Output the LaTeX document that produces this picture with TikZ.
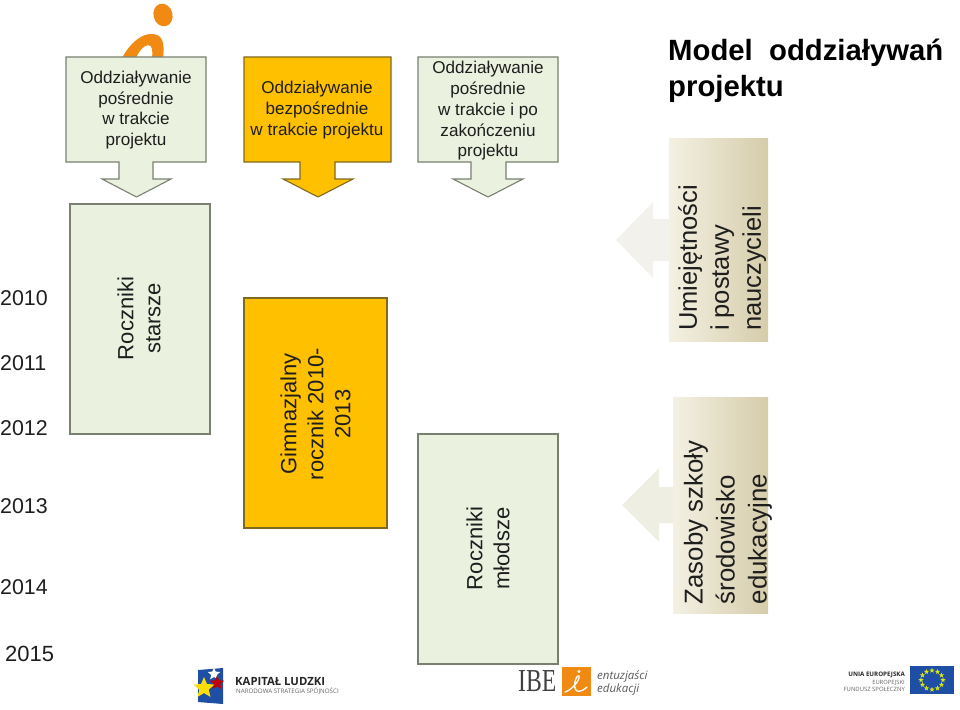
\documentclass[tikz,border=0pt]{standalone}
\usepackage{fontspec}
\setmainfont{Liberation Sans}
\newfontfamily\serifa{Liberation Serif}
\newfontfamily\logoa{Open Sans}
\usetikzlibrary{shapes.geometric}
\definecolor{pale}{HTML}{EAF1DF}
\definecolor{amber}{HTML}{FFC000}
\definecolor{edgeg}{HTML}{7A8070}
\definecolor{edgeo}{HTML}{7F6A20}
\definecolor{ink}{HTML}{1E1E1E}
\definecolor{brand}{HTML}{F08A12}
\definecolor{eublue}{HTML}{1F4FA5}
\definecolor{sanddark}{HTML}{D5CCAA}
\definecolor{sandlight}{HTML}{F4F1E3}
\definecolor{fadeone}{HTML}{F2F1EC}
\definecolor{fadetwo}{HTML}{EFEEE3}
\tikzset{
 x=1pt,y=-1pt,
 greenshape/.style={draw=edgeg,fill=pale,line width=1.1pt,line join=miter},
 ambershape/.style={draw=edgeo,fill=amber,line width=1.1pt,line join=miter},
 boxtext/.style={text=ink,align=center,inner sep=0pt,font=\fontsize{17.1}{20.8}\selectfont},
 sidetext/.style={text=ink,rotate=90,align=center,inner sep=0pt,font=\fontsize{22}{27}\selectfont},
 sandtext/.style={text=ink,rotate=90,align=left,inner sep=0pt},
 year/.style={anchor=base west,inner sep=0pt,text=ink,font=\fontsize{21.4}{25}\selectfont},
}
\begin{document}
\begin{tikzpicture}
\useasboundingbox (0,0) rectangle (960,709);
% orange figure behind the first callout
\fill[brand,rotate around={15:(163,15)}] (163,15) ellipse [x radius=9.5,y radius=11.5];
\fill[brand] (122,58) .. controls (130,43) and (142,33) .. (153,34)
  .. controls (162,35) and (165,42) .. (163,58) -- (152,58)
  .. controls (153,50) and (152,45) .. (148,45)
  .. controls (143,46) and (139,51) .. (136,58) -- cycle;
% callouts
\draw[greenshape] (66,57) -- (206,57) -- (206,162) -- (153,162) -- (153,179) -- (171,179) -- (136.5,197) -- (102,179) -- (119,179) -- (119,162) -- (66,162) -- cycle;
\draw[ambershape] (244,57) -- (391,57) -- (391,162) -- (335,162) -- (335,179) -- (353,179) -- (318,197) -- (283,179) -- (300,179) -- (300,162) -- (244,162) -- cycle;
\draw[greenshape] (418,57) -- (558,57) -- (558,162) -- (506,162) -- (506,179) -- (523,179) -- (488,197) -- (453,179) -- (471,179) -- (471,162) -- (418,162) -- cycle;
\node[boxtext] (c1) at (136,110) {Oddziaływanie\\pośrednie\\w trakcie\\projektu};
\node[boxtext] (c2) at (317,110) {Oddziaływanie\\bezpośrednie\\w trakcie projektu};
\node[boxtext] (c3) at (488,110.8) {Oddziaływanie\\pośrednie\\w trakcie i po\\zakończeniu\\projektu};
% long boxes
\node[greenshape,minimum width=140pt,minimum height=230pt,inner sep=0pt] (b1) at (140,319) {};
\node[ambershape,minimum width=143pt,minimum height=230pt,inner sep=0pt] (b2) at (315.5,413) {};
\node[greenshape,minimum width=140pt,minimum height=230pt,inner sep=0pt] (b3) at (488,549) {};
\node[sidetext] (t1) at (139,318.5) {Roczniki\\starsze};
\node[sidetext] (t2) at (315.5,414) {Gimnazjalny\\rocznik 2010-\\2013};
\node[sidetext] (t3) at (488,548.5) {Roczniki\\młodsze};
% sand callouts
\fill[fadeone] (669,219) -- (653,219) -- (653,202) -- (616,240) -- (653,278) -- (653,261) -- (669,261) -- cycle;
\fill[fadetwo] (673,487) -- (659,487) -- (659,468) -- (622,505) -- (659,542) -- (659,523) -- (673,523) -- cycle;
\fill[left color=sandlight,right color=sanddark] (669,138) rectangle (768,341);
\fill[left color=sandlight,right color=sanddark] (673,397) rectangle (768,613);
\node[sandtext,font=\fontsize{25.5}{32}\selectfont] (s1) at (722,258) {Umiejętności\\i postawy\\nauczycieli};
\node[sandtext,font=\fontsize{25.8}{32}\selectfont] (s2) at (728,522.5) {Zasoby szkoły\\środowisko\\edukacyjne};
% title
\node[anchor=base west,inner sep=0pt,align=left,text=black,font=\bfseries\fontsize{29.3}{36}\selectfont] (title) at (668,96) {Model\ \ oddziaływań\\projektu};
% years
\node[year] (y0) at (0,305.5) {2010};
\node[year] (y1) at (0,370.5) {2011};
\node[year] (y2) at (0,435.5) {2012};
\node[year] (y3) at (0,513.5) {2013};
\node[year] (y4) at (0,594.5) {2014};
\node[year,font=\fontsize{22}{25}\selectfont] (y5) at (5,661.5) {2015};
% Kapitał Ludzki logo
\fill[eublue] (198,670) -- (223,668) -- (223,704) -- (198,702) -- cycle;
\node[star,star points=5,star point ratio=2.2,fill=white,inner sep=0pt,minimum size=13pt] (k1) at (214,674) {};
\node[star,star points=5,star point ratio=2.2,fill=red!75!black,inner sep=0pt,minimum size=15pt] (k2) at (217,683) {};
\node[star,star points=5,star point ratio=2.2,fill=yellow!80!orange,inner sep=0pt,minimum size=22pt] (k3) at (204,688) {};
\node[anchor=base west,inner sep=0pt,text=black!85,font=\logoa\bfseries\fontsize{11.3}{12}\selectfont] (k4) at (235,685) {KAPITAŁ LUDZKI};
\node[anchor=base west,inner sep=0pt,text=black!60,font=\logoa\fontsize{6.2}{7}\selectfont] (k5) at (236,693) {NARODOWA STRATEGIA SPÓJNOŚCI};
% IBE logo
\node[anchor=base west,inner sep=0pt,text=black!75,font=\serifa\fontsize{32}{33}\selectfont] (i1) at (518,691) {\scalebox{0.74}[1]{IBE}};
\fill[brand] (562,667) rectangle (591,696);
\fill[white] (579,671.5) circle (1.7);
\draw[white,line width=1.3pt,line cap=round] (565,692) .. controls (572,690) and (580,680) .. (579,676) .. controls (576,674) and (572,688) .. (577,691) .. controls (580,692) and (584,690) .. (587,687);
\node[anchor=base west,inner sep=0pt,align=left,text=black!65,font=\logoa\itshape\fontsize{11.5}{13}\selectfont] (i2) at (597,692) {entuzjaści\\edukacji};
% EU logo
\node[anchor=base east,inner sep=0pt,text=black!85,font=\logoa\bfseries\fontsize{6.2}{7}\selectfont] (e1) at (905,676.5) {UNIA EUROPEJSKA};
\node[anchor=base east,inner sep=0pt,text=black!60,font=\logoa\fontsize{5.8}{7}\selectfont] (e2) at (905,684) {EUROPEJSKI};
\node[anchor=base east,inner sep=0pt,text=black!60,font=\logoa\fontsize{5.9}{7}\selectfont] (e3) at (905,691.5) {FUNDUSZ SPOŁECZNY};
\fill[eublue] (910,666) rectangle (954,694);
\foreach \a in {0,30,...,330}
  \node[star,star points=5,star point ratio=2.4,fill=yellow!85!green,inner sep=0pt,minimum size=5.5pt] at ({932+11*cos(\a)},{680+9.5*sin(\a)}) {};
\end{tikzpicture}
\end{document}
